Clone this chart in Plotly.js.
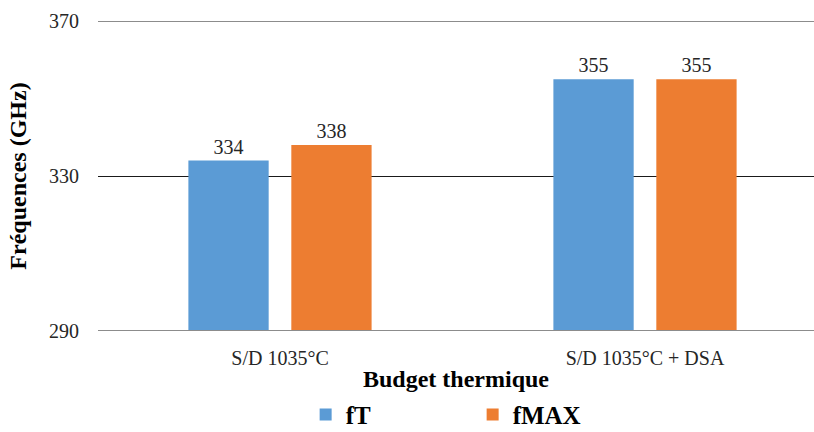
<!DOCTYPE html>
<html><head><meta charset="utf-8">
<script src="https://cdn.plot.ly/plotly-3.0.1.min.js"></script>
<style>body{margin:0}#c{width:814px;height:432px}</style>
</head><body><div id="c"></div>
<script>
const categories = ["S/D 1035°C", "S/D 1035°C + DSA"];
const fT = [334, 355];
const fMAX = [338, 355];
const seriesNames = ["fT", "fMAX"];
const yTicks = [290, 330, 370];

const font = "Liberation Serif";
const xIdx = categories.map((_, i) => i);
const traces = [
  {type:"bar", name:seriesNames[0], x:xIdx, y:fT, marker:{color:"#5B9BD5"},
   text:fT.map(String), textposition:"outside", cliponaxis:false,
   textfont:{family:font,size:20,color:"#262626"}},
  {type:"bar", name:seriesNames[1], x:xIdx, y:fMAX, marker:{color:"#ED7D31"},
   text:fMAX.map(String), textposition:"outside", cliponaxis:false,
   textfont:{family:font,size:20,color:"#262626"}}
];
const layout = {
  width:814, height:432,
  margin:{l:98, r:0, t:21, b:101},
  paper_bgcolor:"#fff", plot_bgcolor:"#fff",
  barmode:"group", bargap:0.436, bargroupgap:0.22,
  font:{family:font, color:"#262626"},
  xaxis:{tickmode:"array", tickvals:xIdx, ticktext:categories, range:[-0.4986,1.463], automargin:false,
    showgrid:false, zeroline:false, showline:false, ticks:"outside", ticklen:9, tickcolor:"rgba(0,0,0,0)",
    tickfont:{family:font,size:20,color:"#262626"},
    title:{text:"<b>Budget thermique</b>", font:{family:font,size:24,color:"#000"}, standoff:9}},
  yaxis:{range:[290,370], tickvals:yTicks, showgrid:true, gridcolor:"#1a1a1a", gridwidth:1, automargin:false,
    zeroline:false, showline:false, ticks:"outside", ticklen:14, tickcolor:"rgba(0,0,0,0)",
    tickfont:{family:font,size:20,color:"#262626"},
    title:{text:"<b>Fréquences (GHz)</b>", font:{family:font,size:24,color:"#000"}, standoff:15}},
  showlegend:true,
  legend:{orientation:"h", x:0.29, xanchor:"left", yref:"container", y:0.04, yanchor:"middle",
    entrywidth:122, entrywidthmode:"pixels", tracegroupgap:0,
    font:{family:font,size:25,color:"#000", weight:"bold"}},
  shapes:[
    {type:"line", xref:"paper", x0:0, x1:1, yref:"y", y0:370, y1:370, line:{color:"#1a1a1a", width:1}},
    {type:"line", xref:"paper", x0:0, x1:1, yref:"y", y0:290, y1:290, line:{color:"#8c8c8c", width:2}}]
};
Plotly.newPlot("c", traces, layout, {displayModeBar:false, staticPlot:true});
</script></body></html>
